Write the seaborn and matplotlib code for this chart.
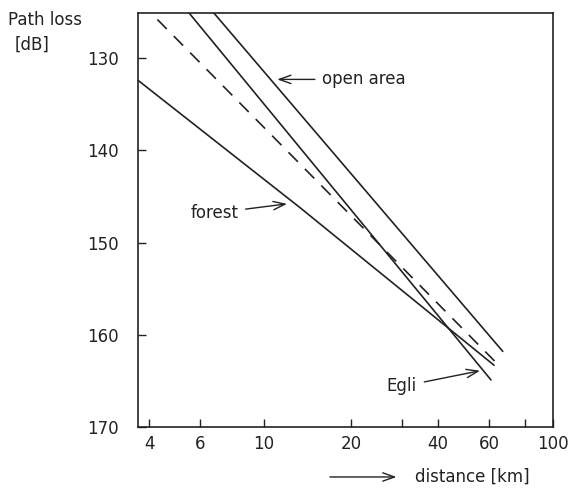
import numpy as np
import pandas as pd
import matplotlib
matplotlib.use("Agg")
import matplotlib.pyplot as plt
import seaborn as sns

# ---- data ----
open_dist = [6.7, 67.0]
open_loss = [125.1, 161.8]
egli_dist = [5.5, 61.0]
egli_loss = [125.1, 164.9]
dashed_dist = [4.27, 63.0]
dashed_loss = [125.8, 162.9]
forest_dist = [3.66, 13.3, 62.5]
forest_loss = [132.4, 146.2, 163.3]

x_ticks = [4, 6, 10, 20, 40, 60, 100]
x_tick_labels = ["4", "6", "10", "20", "40", "60", "100"]
x_minor_ticks = [30, 80]
y_ticks = [130, 140, 150, 160, 170]

frames = []
for name, d, l in [("open area", open_dist, open_loss),
                   ("Egli", egli_dist, egli_loss),
                   ("dashed", dashed_dist, dashed_loss),
                   ("forest", forest_dist, forest_loss)]:
    frames.append(pd.DataFrame({"distance": d, "loss": l, "model": name}))
df = pd.concat(frames, ignore_index=True)

sns.set_style("white")
plt.rcParams["font.family"] = ["DejaVu Sans"]
ink = "#222222"

fig = plt.figure(figsize=(5.72, 4.93), dpi=100)
ax = fig.add_axes([0.2413, 0.1339, 0.9668 - 0.2413, 0.9736 - 0.1339])

sns.lineplot(data=df, x="distance", y="loss", hue="model", style="model",
             palette={"open area": ink, "Egli": ink, "dashed": ink, "forest": ink},
             dashes={"open area": "", "Egli": "", "dashed": (8, 6), "forest": ""},
             linewidth=1.2, legend=False, ax=ax, sort=False)

ax.set_xscale("log")
ax.set_xlim(3.66, 100)
ax.set_ylim(170, 125.1)

ax.set_xticks(x_ticks)
ax.set_xticklabels(x_tick_labels)
ax.set_xticks(x_minor_ticks, minor=True)
ax.set_xticklabels([], minor=True)
ax.set_yticks(y_ticks)
ax.set_yticklabels([str(v) for v in y_ticks])
ax.tick_params(axis="x", which="both", direction="in", length=6, width=1.0,
               color=ink, labelsize=12, pad=6, labelcolor=ink, bottom=True)
ax.tick_params(axis="y", which="both", direction="in", length=6, width=1.0,
               color=ink, labelsize=12, pad=14, labelcolor=ink, left=True)
ax.set_xlabel("")
ax.set_ylabel("")
for s in ax.spines.values():
    s.set_color(ink)
    s.set_linewidth(1.2)
    s.set_visible(True)

arrow = dict(arrowstyle="->,head_length=0.7,head_width=0.25", color=ink, lw=1.0,
             shrinkA=3, shrinkB=0)
ax.annotate("open area", xy=(11.1, 132.3), xytext=(15.9, 132.3),
            ha="left", va="center", fontsize=12, color=ink, arrowprops=arrow)
ax.annotate("forest", xy=(12.0, 145.8), xytext=(8.13, 146.8),
            ha="right", va="center", fontsize=12, color=ink, arrowprops=arrow)
ax.annotate("Egli", xy=(55.9, 163.9), xytext=(33.8, 165.6),
            ha="right", va="center", fontsize=12, color=ink, arrowprops=arrow)

fig.text(0.014, 0.959, "Path loss", ha="left", va="center", fontsize=12, color=ink)
fig.text(0.026, 0.909, "[dB]", ha="left", va="center", fontsize=12, color=ink)
fig.text(0.7255, 0.0325, "distance [km]", ha="left", va="center", fontsize=12, color=ink)
fig.add_artist(matplotlib.patches.FancyArrowPatch(
    (0.572, 0.0325), (0.698, 0.0325), transform=fig.transFigure,
    arrowstyle="->,head_length=0.7,head_width=0.25", mutation_scale=12,
    color=ink, lw=1.0))

fig.savefig("out.png", dpi=100)
